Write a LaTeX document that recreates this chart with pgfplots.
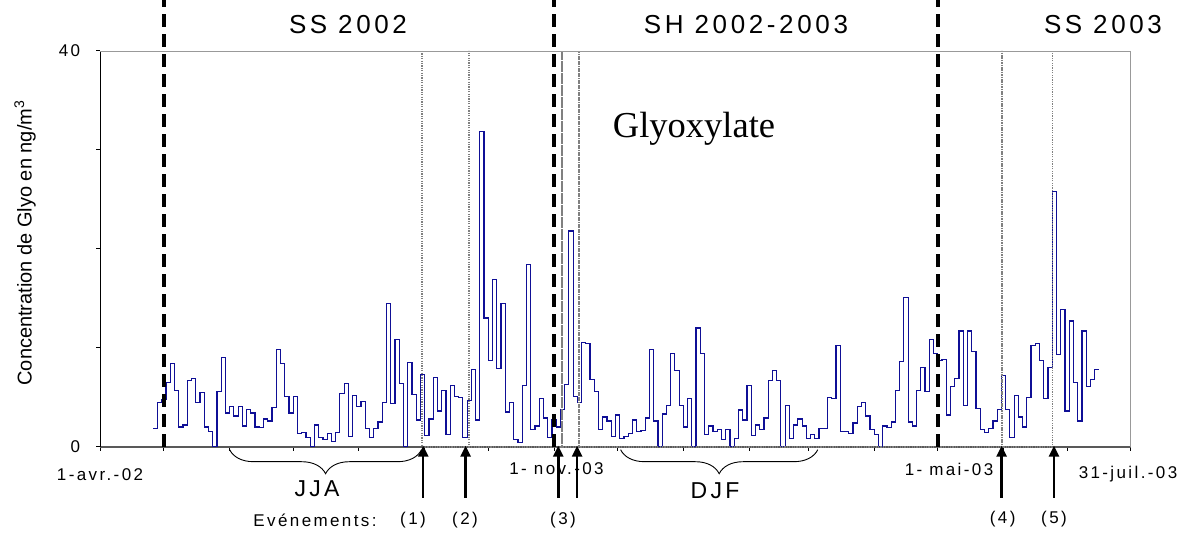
\documentclass[border=0pt]{standalone}
\usepackage{fontspec}
\setmainfont{Liberation Sans}
\newfontfamily\spaced[LetterSpace=14]{Liberation Sans}
\newfontfamily\timesf{Liberation Serif}
\usepackage{pgfplots}
\pgfplotsset{compat=1.18}
\usetikzlibrary{arrows.meta,decorations.pathreplacing}
\definecolor{navyline}{RGB}{15,15,150}
\newcommand{\tlfont}{\spaced\fontsize{17bp}{20bp}\selectfont}
\newcommand{\bigfont}{\spaced\fontsize{26bp}{30bp}\selectfont}
\newcommand{\midfont}{\spaced\fontsize{23bp}{27bp}\selectfont}
\begin{document}
\begin{tikzpicture}[x=1bp,y=1bp]
\path[use as bounding box] (0,0) rectangle (1186,535);
\begin{axis}[
  at={(100.3bp,88.3bp)}, anchor=south west,
  width=1030.4bp, height=395.7bp, scale only axis,
  xmin=0, xmax=486, ymin=0, ymax=40,
  axis lines=left, axis line style={-},
  x axis line style={draw=black!65, line width=2bp},
  y axis line style={draw=black, line width=1bp},
  xtick={0,30,61,91,122,153,183,214,244,275,306,334,365,395,426,456,486},
  xticklabels={},
  ytick={0,10,20,30,40}, yticklabels={0,,,,40},
  /pgf/number format/assume math mode=true,
  tick align=outside, major tick length=4bp,
  every tick/.style={black, line width=1bp},
  yticklabel style={font=\tlfont, inner sep=0pt, xshift=-16bp},
  clip=false,
]
\addplot[navyline, line width=1.2bp, const plot mark left] coordinates {
(25,1.85)(27,4.5)(29,4.8)(31,6.5)(33,8.4)(35,5.7)(37,2.0)(39,2.2)(41,6.7)(43,6.9)
(45,4.5)(47,5.5)(49,2.0)(51,1.5)(53,0)(55,5.6)(57,9.0)(59,3.4)(61,4.1)(63,3.1)
(65,4.1)(67,2.1)(69,3.8)(71,3.4)(73,2.0)(75,1.95)(77,2.8)(79,2.6)(81,4.0)(83,9.8)
(85,8.4)(87,5.1)(89,3.4)(91,5.1)(93,1.3)(95,1.4)(97,0.9)(99,0)(101,2.2)(103,0.9)
(105,0.7)(107,1.3)(109,0.5)(111,1.4)(113,5.4)(115,6.4)(117,1.0)(119,5.2)(121,4.1)(123,4.6)
(125,1.85)(127,0.9)(129,1.85)(131,2.5)(133,4.5)(135,14.5)(137,4.4)(139,10.8)(141,6.4)(143,0)
(145,8.5)(147,5.3)(149,2.7)(151,7.3)(153,1.1)(155,2.8)(157,7.0)(159,3.6)(161,5.7)(163,1.2)
(165,6.2)(167,5.1)(169,5.0)(171,0.9)(173,4.7)(175,7.8)(177,2.7)(179,31.9)(181,13.0)(183,8.75)
(185,16.9)(187,7.9)(189,14.5)(191,3.5)(193,4.5)(195,0.7)(197,0.4)(199,6.2)(201,18.4)(203,1.75)
(205,2.1)(207,4.9)(209,2.9)(211,0.9)(213,2.7)(215,2.0)(217,3.8)(219,6.3)(221,21.8)(223,5.05)
(225,4.5)(227,10.5)(229,10.4)(231,6.8)(233,5.6)(235,1.75)(237,3.0)(239,2.6)(241,1.0)(243,3.2)
(245,0.8)(247,1.0)(249,1.3)(251,2.7)(253,1.5)(255,1.6)(257,2.9)(259,9.8)(261,2.6)(263,0)
(265,3.3)(267,4.2)(269,9.4)(271,7.7)(273,4.2)(275,2.0)(277,4.85)(279,0)(281,12.0)(283,9.4)
(285,1.2)(287,2.1)(289,1.5)(291,1.7)(293,0.7)(295,1.75)(297,0)(299,0.85)(301,3.7)(303,2.7)
(305,6.2)(307,1.1)(309,2.2)(311,1.7)(313,2.9)(315,6.7)(317,7.7)(319,6.7)(321,0)(323,4.2)
(325,0.85)(327,2.2)(329,2.8)(331,2.1)(333,0.85)(335,1.25)(337,0.85)(339,1.85)(341,1.85)(343,4.95)
(345,4.85)(347,10.2)(349,1.5)(351,1.5)(353,1.35)(355,2.4)(357,4.1)(359,4.45)(361,3.1)(363,1.7)
(365,1.2)(367,0)(369,2.1)(371,1.95)(373,2.5)(375,5.7)(377,8.6)(379,15.1)(381,2.5)(383,2.1)
(385,5.7)(387,8.0)(389,5.6)(391,10.8)(393,9.4)(395,8.7)(397,8.8)(399,3.2)(401,6.1)(403,6.9)
(405,11.7)(407,4.2)(409,11.7)(411,9.6)(413,3.9)(415,1.75)(417,1.4)(419,1.85)(421,2.6)(423,3.8)
(425,7.2)(427,3.8)(429,0.9)(431,5.2)(433,3.0)(435,2.0)(437,5.0)(439,10.2)(441,10.4)(443,8.7)
(445,4.9)(447,8.0)(449,25.8)(451,9.3)(453,13.9)(455,3.6)(457,12.7)(459,6.5)(461,2.6)(463,11.7)
(465,6.1)(467,6.8)(469,7.8)(471,7.8)};
\addplot[black!50, line width=1.8bp, dash pattern=on 1.2bp off 1.2bp] coordinates {
(151.9,40)(151.9,0)(174,0)(174,40)(174,0)(217.6,0)(217.6,40)(217.6,0)(225.9,0)(225.9,40)(225.9,0)(425.1,0)(425.1,40)(425.1,0)(449.1,0)(449.1,40)};
\draw[gray!80, line width=0.8bp] (axis cs:0,40) -- (axis cs:486,40) -- (axis cs:486,0);
\pgfplotsinvokeforeach{30,214,395}{
  \draw[black, line width=3.5bp, dash pattern=on 13bp off 7bp] (axis cs:#1,0) -- ([yshift=51bp]axis cs:#1,40);
}
\pgfplotsinvokeforeach{152.3,172.3,216.0,224.9,425.1,449.8}{
  \draw[black, line width=2.5bp, -{Triangle[width=10bp,length=11bp]}] ([yshift=-51bp]axis cs:#1,0) -- ([yshift=1bp]axis cs:#1,0);
}
\draw[decorate, decoration={brace, mirror, amplitude=24bp}, line width=0.9bp] ([yshift=-3bp]axis cs:61,0) -- ([yshift=-3bp]axis cs:151.5,0);
\draw[decorate, decoration={brace, mirror, amplitude=24bp}, line width=0.9bp] ([yshift=-3bp]axis cs:245.4,0) -- ([yshift=-3bp]axis cs:338.4,0);
\end{axis}
\node[font=\bigfont, inner sep=0pt] at (348,510) {SS 2002};
\node[font=\bigfont, inner sep=0pt] at (746,510) {SH 2002-2003};
\node[font=\bigfont, inner sep=0pt] at (1103,510) {SS 2003};
\node[font=\timesf\fontsize{36.5bp}{40bp}\selectfont, anchor=base, inner sep=0pt] at (694,397.3) {Glyoxylate};
\node[font=\tlfont, inner sep=0pt] at (100,60) {1-avr.-02};
\node[font=\tlfont, inner sep=0pt] at (556.5,66) {1- nov.-03};
\node[font=\tlfont, inner sep=0pt] at (949,66) {1- mai-03};
\node[font=\tlfont, inner sep=0pt] at (1128,61) {31-juil.-03};
\node[font=\midfont, inner sep=0pt] at (317,46) {JJA};
\node[font=\midfont, inner sep=0pt] at (715,44) {DJF};
\node[font=\tlfont, inner sep=0pt] at (315,15) {Evénements:};
\node[font=\tlfont, inner sep=0pt] at (413,15) {(1)};
\node[font=\tlfont, inner sep=0pt] at (465,15) {(2)};
\node[font=\tlfont, inner sep=0pt] at (563,15) {(3)};
\node[font=\tlfont, inner sep=0pt] at (1002.7,16) {(4)};
\node[font=\tlfont, inner sep=0pt] at (1054,16) {(5)};
\node[font=\fontsize{20bp}{24bp}\selectfont, rotate=90, inner sep=0pt] at (25,292) {Concentration de Glyo en ng/m\textsuperscript{3}};
\end{tikzpicture}
\end{document}
